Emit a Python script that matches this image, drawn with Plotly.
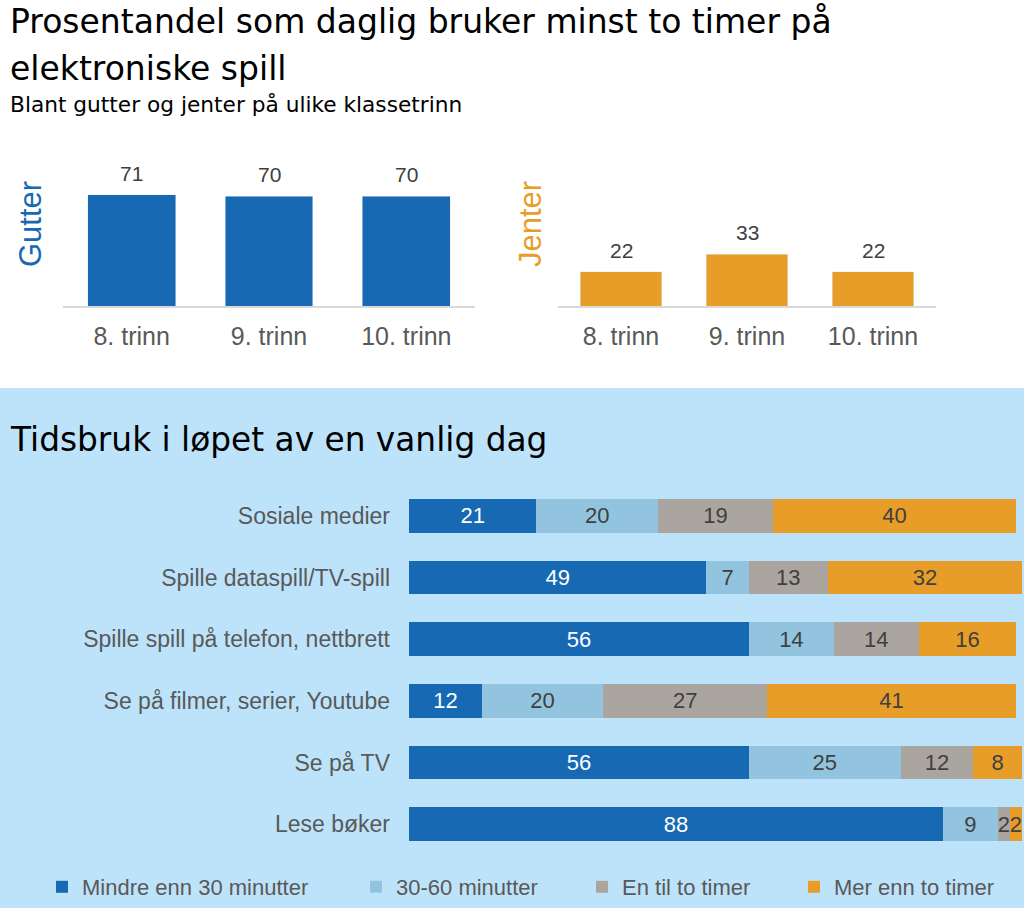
import plotly.graph_objects as go

# ---------------- data ----------------
grades = ["8. trinn", "9. trinn", "10. trinn"]
boys = [71, 70, 70]
girls = [22, 33, 22]

activities = [
    "Sosiale medier",
    "Spille dataspill/TV-spill",
    "Spille spill på telefon, nettbrett",
    "Se på filmer, serier, Youtube",
    "Se på TV",
    "Lese bøker",
]
series_names = ["Mindre enn 30 minutter", "30-60 minutter", "En til to timer", "Mer enn to timer"]
under_30 = [21, 49, 56, 12, 56, 88]
min_30_60 = [20, 7, 14, 20, 25, 9]
one_to_two = [19, 13, 14, 27, 12, 2]
over_two = [40, 32, 16, 41, 8, 2]

# ---------------- style ----------------
W, H = 1024, 908
DARK_BLUE = "#1769B3"
LIGHT_BLUE = "#92C4E0"
GRAY = "#ABA5A0"
ORANGE = "#E89D28"
PANEL_BG = "#BDE3FA"
LABEL = "#595959"
VALUE = "#404040"
FONT = "Liberation Sans, Arial, sans-serif"
TFONT = "DejaVu Sans, Liberation Sans, sans-serif"


def px(x):
    return x / W


def py(y):
    return 1 - y / H


fig = go.Figure()

# top charts
fig.add_trace(go.Bar(
    x=grades, y=boys, xaxis="x", yaxis="y", marker_color=DARK_BLUE, width=0.64,
    showlegend=False, hoverinfo="x+y",
))
fig.add_trace(go.Bar(
    x=grades, y=girls, xaxis="x2", yaxis="y2", marker_color=ORANGE, width=0.65,
    showlegend=False, hoverinfo="x+y",
))

# bottom stacked chart
stack = [under_30, min_30_60, one_to_two, over_two]
colors = [DARK_BLUE, LIGHT_BLUE, GRAY, ORANGE]
text_colors = ["white", VALUE, VALUE, VALUE]
legends = ["legend", "legend2", "legend3", "legend4"]
for name, vals, col, tcol, lg in zip(series_names, stack, colors, text_colors, legends):
    fig.add_trace(go.Bar(
        y=activities, x=vals, orientation="h", name=name, xaxis="x3", yaxis="y3",
        marker=dict(color=col, line=dict(width=0)), width=0.55,
        text=vals, textposition="inside", insidetextanchor="middle", textangle=0,
        constraintext="none", cliponaxis=False,
        textfont=dict(size=22, color=tcol, family=FONT), legend=lg,
    ))

# ---------------- layout ----------------
top_dom = [py(306), py(179)]
xcommon = dict(showline=True, linecolor="#D9D9D9", linewidth=1.5, ticks="", showgrid=False,
               zeroline=False, tickfont=dict(size=25, color=LABEL), ticklabelstandoff=7,
               fixedrange=True)
fig.update_layout(
    width=W, height=H,
    margin=dict(l=0, r=0, t=0, b=0),
    paper_bgcolor="white",
    plot_bgcolor="rgba(0,0,0,0)",
    barmode="stack",
    font=dict(family=FONT, color=LABEL),
    xaxis=dict(domain=[px(63), px(475)], anchor="y", **xcommon),
    yaxis=dict(domain=top_dom, anchor="x", range=[0, 81], visible=False, fixedrange=True),
    xaxis2=dict(domain=[px(558), px(936)], anchor="y2", **xcommon),
    yaxis2=dict(domain=top_dom, anchor="x2", range=[0, 81], visible=False, fixedrange=True),
    xaxis3=dict(domain=[px(409), px(1022)], anchor="y3", range=[0, 101], visible=False,
                fixedrange=True),
    yaxis3=dict(domain=[py(855), py(485)], anchor="x3", autorange="reversed",
                showline=False, ticks="", showgrid=False, zeroline=False,
                tickfont=dict(size=23, color=LABEL), ticklabelstandoff=18, fixedrange=True),
    shapes=[dict(type="rect", xref="paper", yref="paper", x0=0, x1=1, y0=0, y1=py(388),
                 fillcolor=PANEL_BG, line=dict(width=0), layer="below")],
)

leg_common = dict(orientation="h", yanchor="middle", xanchor="left", y=py(887),
                  bgcolor="rgba(0,0,0,0)", font=dict(size=22, color=LABEL, family=FONT),
                  borderwidth=0)
fig.update_layout(
    legend=dict(x=px(42), **leg_common),
    legend2=dict(x=px(356), **leg_common),
    legend3=dict(x=px(582), **leg_common),
    legend4=dict(x=px(794), **leg_common),
)

annotations = [
    dict(text="Prosentandel som daglig bruker minst to timer på", x=px(8), y=py(21),
         font=dict(size=33, color="#000000", family=TFONT)),
    dict(text="elektroniske spill", x=px(8), y=py(69),
         font=dict(size=33, color="#000000", family=TFONT)),
    dict(text="Blant gutter og jenter på ulike klassetrinn", x=px(8), y=py(104.5),
         font=dict(size=21.7, color="#000000", family=TFONT)),
    dict(text="Tidsbruk i løpet av en vanlig dag", x=px(8), y=py(440.5),
         font=dict(size=32.8, color="#000000", family=TFONT)),
]
for a in annotations:
    a.update(xref="paper", yref="paper", xanchor="left", yanchor="middle", showarrow=False)
annotations += [
    dict(text="Gutter", x=px(30), y=py(224), xref="paper", yref="paper", textangle=-90,
         showarrow=False, xanchor="center", yanchor="middle",
         font=dict(size=31, color=DARK_BLUE, family=FONT)),
    dict(text="Jenter", x=px(530), y=py(224), xref="paper", yref="paper", textangle=-90,
         showarrow=False, xanchor="center", yanchor="middle",
         font=dict(size=31, color=ORANGE, family=FONT)),
]
# value labels above the top bars, placed through the data axes
for xa, ya, vals in (("x", "y", boys), ("x2", "y2", girls)):
    for g, v in zip(grades, vals):
        annotations.append(dict(
            text=str(v), x=g, y=v, xref=xa, yref=ya, showarrow=False,
            xanchor="center", yanchor="bottom", yshift=8,
            font=dict(size=21, color=VALUE, family=FONT),
        ))
fig.update_layout(annotations=annotations)

fig.write_html(
    "out.html",
    config={"displayModeBar": False},
    post_script="document.body.style.margin='0';document.body.style.overflow='hidden';",
)
